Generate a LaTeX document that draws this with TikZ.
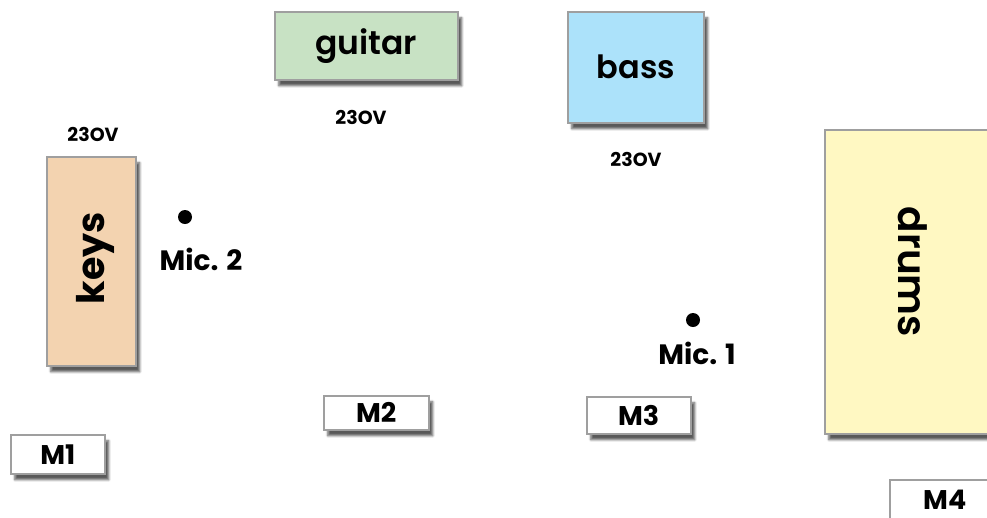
\documentclass[tikz,border=0pt]{standalone}
\usepackage{fontspec}
\setmainfont{Poppins}
\newfontfamily\semifont{Poppins SemiBold}
\usetikzlibrary{shadows.blur}

\definecolor{guitarfill}{RGB}{200,226,196}
\definecolor{bassfill}{RGB}{172,226,250}
\definecolor{keysfill}{RGB}{243,211,176}
\definecolor{drumsfill}{RGB}{255,248,194}

\tikzset{
  amp/.style={draw=gray!75, line width=1.5pt, inner sep=0pt, anchor=north west,
    blur shadow={shadow xshift=4pt, shadow yshift=-6pt, shadow blur steps=6, shadow opacity=65}},
  instr/.style={font=\fontsize{#1}{#1}\semifont},
  monitor/.style={amp, fill=white, font=\fontsize{27}{27}\selectfont\bfseries},
  volt/.style={font=\fontsize{19}{19}\selectfont\bfseries},
  miclabel/.style={font=\fontsize{28}{28}\selectfont\bfseries},
}

\begin{document}
\begin{tikzpicture}[x=1pt,y=-1pt]
      \useasboundingbox (0,0) rectangle (987,517);
      \clip (0,0) rectangle (987,517);

      % amps and instruments
      \node[amp,fill=guitarfill,minimum width=183pt,minimum height=68pt,instr=33] (guitar) at (274,11) {guitar};
      \node[amp,fill=bassfill,minimum width=136pt,minimum height=111pt,instr=32] (bass) at (567,11) {bass};
      \node[amp,fill=keysfill,minimum width=89pt,minimum height=209pt] (keys) at (46,156) {};
      \node[rotate=90,font=\fontsize{38}{38}\selectfont\bfseries] (keyslabel) at (95,258) {keys};
      \node[amp,fill=drumsfill,minimum width=180pt,minimum height=304pt] (drums) at (824,129) {};
      \node[rotate=-90,instr=39] (drumslabel) at (913,272) {drums};

      % power
      \node[volt] (voltkeys) at (93,134) {23OV};
      \node[volt] (voltguitar) at (361,117) {23OV};
      \node[volt] (voltbass) at (636,159) {23OV};

      % microphones
      \fill (185,217) circle (7pt) coordinate (mictwo);
      \node[miclabel] (mictwolabel) at (201,259) {Mic. 2};
      \fill (693,320) circle (7pt) coordinate (micone);
      \node[miclabel] (miconelabel) at (697,353) {Mic. 1};

      % monitors
      \node[monitor,minimum width=94pt,minimum height=39pt] (mone) at (10,434) {M1};
      \node[monitor,minimum width=105pt,minimum height=34pt] (mtwo) at (323,395) {M2};
      \node[monitor,minimum width=104pt,minimum height=37pt] (mthree) at (586,396) {M3};
      \node[monitor,minimum width=110pt,minimum height=40pt] (mfour) at (889,479) {M4};
\end{tikzpicture}
\end{document}
